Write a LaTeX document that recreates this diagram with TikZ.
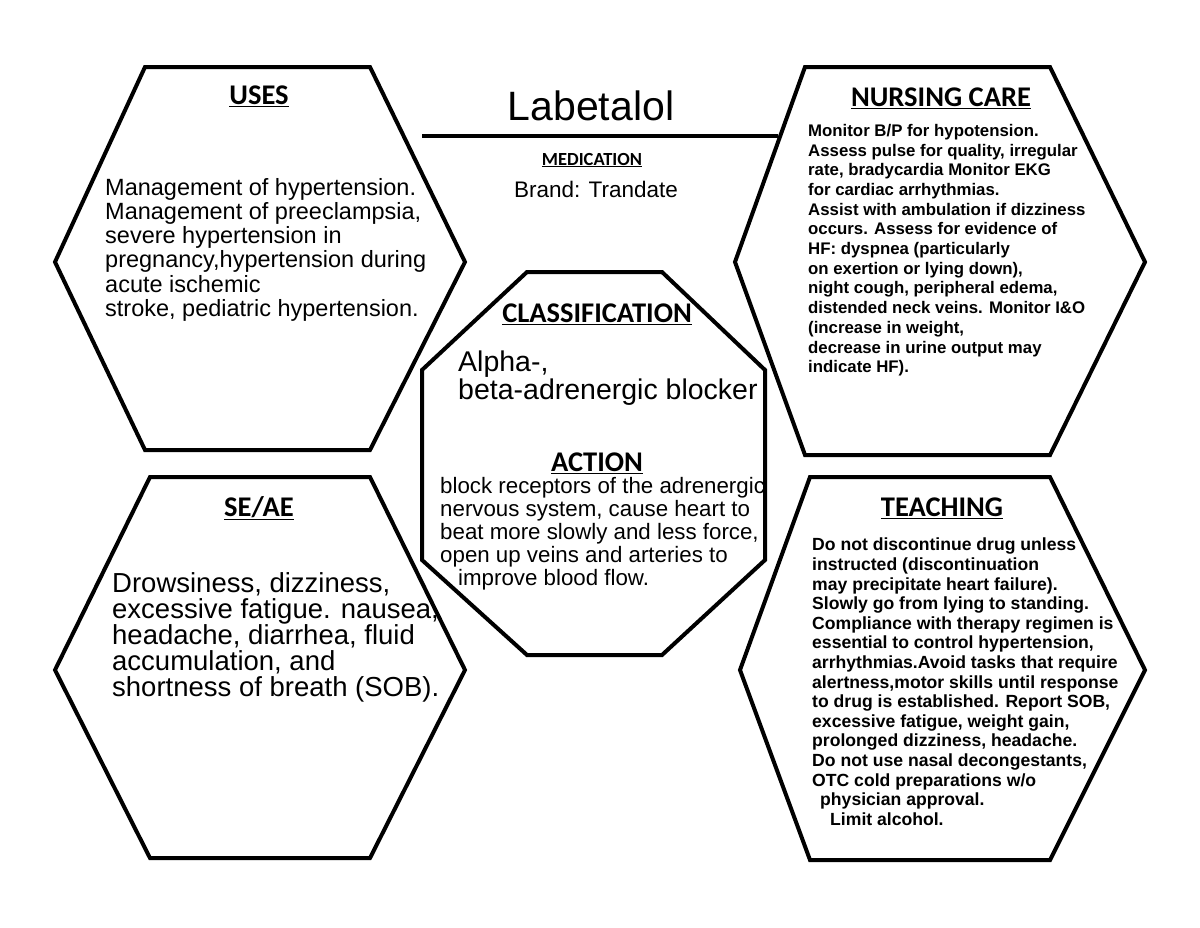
\documentclass[tikz,border=0pt]{standalone}
\usepackage{fontspec}
\setmainfont{Liberation Sans}
\newfontfamily\headfont{Carlito}
\begin{document}
\begin{tikzpicture}[x=1pt,y=-1pt,
  shp/.style={draw=black,line width=4pt,line join=miter},
  head/.style={font=\headfont\bfseries\fontsize{28.5}{30}\selectfont,anchor=center,inner sep=0},
  body/.style={align=left,anchor=north west,inner sep=0}]
\useasboundingbox (0,0) rectangle (1200,927);
\fill[white] (0,0) rectangle (1200,927);
% hexagons
\draw[shp] (145,67) -- (370,67) -- (465,262) -- (370,450) -- (145,450) -- (55,262) -- cycle;
\draw[shp] (150,477) -- (370,477) -- (465,670) -- (370,858) -- (150,858) -- (55,670) -- cycle;
\draw[shp] (805,67) -- (1050,67) -- (1145,262) -- (1050,455) -- (805,455) -- (735,262) -- cycle;
\draw[shp] (810,477) -- (1050,477) -- (1145,670) -- (1050,860) -- (810,860) -- (740,670) -- cycle;
% octagon
\draw[shp] (527,272) -- (662,272) -- (765,370) -- (765,560) -- (662,655) -- (527,655) -- (422,560) -- (422,370) -- cycle;
% title
\coordinate (la) at (422,136); \coordinate (lb) at (778,136);
\draw[line width=4pt] (la) -- (lb);
\node[inner sep=0,font=\fontsize{41}{44}\selectfont] (title) at (591,106) {Labetalol};
\node[inner sep=0,font=\headfont\bfseries\fontsize{18.5}{20}\selectfont] (med) at (592,160) {\underline{MEDICATION}};
\node[inner sep=0,font=\fontsize{22.5}{24}\selectfont] (brand) at (596,189) {Brand: Trandate};
% headings
\node[head] (h1) at (259,96) {\underline{USES}};
\node[head] (h2) at (941,98) {\underline{NURSING CARE}};
\node[head] (h3) at (597,314) {\underline{CLASSIFICATION}};
\node[head] (h4) at (597,463) {\underline{ACTION}};
\node[head] (h5) at (259,508) {\underline{SE/AE}};
\node[head] (h6) at (942,508) {\underline{TEACHING}};
% bodies
\node[body,font=\fontsize{23.5}{24.2}\selectfont] (b1) at (105,178) {Management of hypertension.\\Management of preeclampsia,\\severe hypertension in\\pregnancy,hypertension during\\acute ischemic\\stroke, pediatric hypertension.};
\node[body,font=\bfseries\fontsize{16.8}{19.7}\selectfont] (b2) at (808,124) {Monitor B/P for hypotension.\\Assess pulse for quality, irregular\\rate, bradycardia Monitor EKG\\for cardiac arrhythmias.\\Assist with ambulation if dizziness\\occurs. Assess for evidence of\\HF: dyspnea (particularly\\on exertion or lying down),\\night cough, peripheral edema,\\distended neck veins. Monitor I\&O\\(increase in weight,\\decrease in urine output may\\indicate HF).};
\node[body,font=\fontsize{28.5}{28}\selectfont] (b3) at (458,351) {Alpha-,\\beta-adrenergic blocker};
\node[body,font=\fontsize{22.3}{23}\selectfont] (b4) at (440,477) {block receptors of the adrenergic\\nervous system, cause heart to\\beat more slowly and less force,\\open up veins and arteries to\\\hspace*{18pt}improve blood flow.};
\node[body,font=\fontsize{27.5}{26}\selectfont] (b5) at (112,572) {Drowsiness, dizziness,\\excessive fatigue. nausea,\\headache, diarrhea, fluid\\accumulation, and\\shortness of breath (SOB).};
\node[body,font=\bfseries\fontsize{17.6}{19.6}\selectfont] (b6) at (812,538) {Do not discontinue drug unless\\instructed (discontinuation\\may precipitate heart failure).\\Slowly go from lying to standing.\\Compliance with therapy regimen is\\essential to control hypertension,\\arrhythmias.Avoid tasks that require\\alertness,motor skills until response\\to drug is established. Report SOB,\\excessive fatigue, weight gain,\\prolonged dizziness, headache.\\Do not use nasal decongestants,\\OTC cold preparations w/o\\\hspace*{8pt}physician approval.\\\hspace*{18pt}Limit alcohol.};
\end{tikzpicture}
\end{document}
